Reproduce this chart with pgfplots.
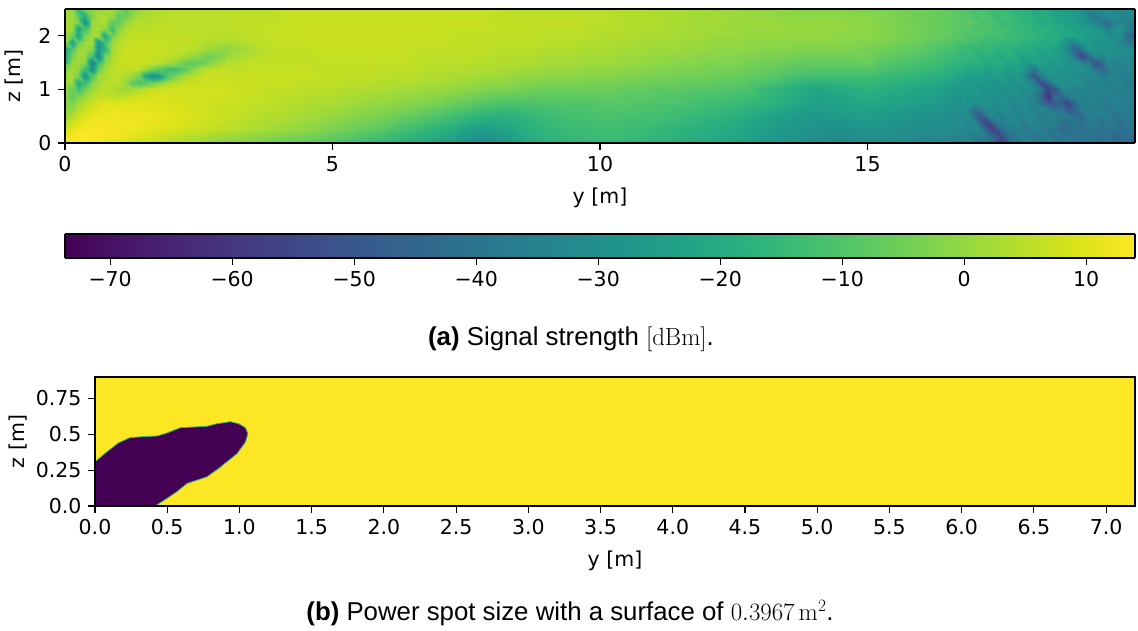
\documentclass[border=0pt]{standalone}
\usepackage{pgfplots}
\pgfplotsset{compat=1.18}
\usepackage[no-math]{fontspec}
\setmainfont{DejaVu Sans}
\newfontfamily\capfont{Liberation Sans}
\definecolor{vy}{HTML}{FDE725}
\definecolor{vd}{HTML}{440154}
\definecolor{vt}{HTML}{2FB47C}
\pgfplotsset{
  base/.style={scale only axis, axis on top, enlargelimits=false,
    axis line style={line width=1.3pt,black},
    tick style={line width=1.1pt,black},
    major tick length=7pt, tick align=outside, xtick pos=bottom, ytick pos=left,
    tick label style={font=\fontsize{20.5}{24}\selectfont},
    label style={font=\fontsize{20.5}{24}\selectfont},
    x tick label style={yshift=-3pt}, y tick label style={xshift=-3pt},
    /pgf/number format/assume math mode=true,
    colormap/viridis},
}
\begin{document}
\begin{tikzpicture}[x=1pt,y=1pt]
\useasboundingbox (0,0) rectangle (1138,631);
\begin{axis}[base, at={(65pt,488pt)}, anchor=south west, width=1070pt, height=134pt,
  xmin=0, xmax=20, ymin=0, ymax=2.5, xtick={0,5,10,15}, ytick={0,1,2},
  xticklabels={0,5,10,15}, yticklabels={0,1,2},
  xlabel={y [m]}, ylabel={z [m]}, view={0}{90},
  point meta min=-73.7, point meta max=14,
  xlabel style={yshift=-9pt}, ylabel style={yshift=8pt}]
\addplot3[surf, shader=interp, mesh/cols=81, point meta=z] table[row sep=crcr,
  x expr={mod(\coordindex,81)*0.25}, y expr={floor(\coordindex/81)*0.25}, z=v] {
v\\
14\\14\\13\\12\\10\\9\\7\\6\\4\\3\\2\\0\\-2\\-3\\-4\\-5\\-6\\-7\\-8\\-9\\
-10\\-12\\-13\\-15\\-16\\-18\\-20\\-22\\-24\\-26\\-30\\-32\\-30\\-28\\-24\\-20\\-18\\-17\\-16\\-15\\
-15\\-15\\-15\\-16\\-17\\-18\\-19\\-20\\-21\\-22\\-23\\-24\\-26\\-28\\-29\\-30\\-31\\-32\\-34\\-33\\
-30\\-31\\-32\\-33\\-34\\-35\\-36\\-38\\-42\\-50\\-56\\-48\\-42\\-40\\-38\\-40\\-41\\-42\\-43\\-44\\-45\\
9\\12\\13\\13\\12\\12\\11\\10\\9\\8\\7\\6\\5\\4\\3\\2\\1\\0\\-1\\-2\\
-4\\-5\\-7\\-8\\-10\\-12\\-14\\-16\\-18\\-20\\-23\\-26\\-25\\-23\\-20\\-18\\-16\\-15\\-14\\-14\\
-13\\-13\\-14\\-14\\-15\\-16\\-17\\-18\\-19\\-20\\-21\\-22\\-24\\-26\\-27\\-28\\-29\\-30\\-30\\-30\\
-29\\-29\\-30\\-31\\-32\\-31\\-31\\-32\\-50\\-58\\-48\\-38\\-36\\-36\\-38\\-44\\-44\\-42\\-40\\-42\\-44\\
0\\8\\11\\12\\13\\12\\12\\11\\10\\9\\8\\7\\7\\6\\5\\4\\4\\3\\2\\1\\
0\\-1\\-2\\-3\\-4\\-6\\-7\\-9\\-11\\-13\\-15\\-17\\-18\\-18\\-17\\-15\\-14\\-13\\-12\\-12\\
-11\\-11\\-12\\-12\\-12\\-13\\-14\\-15\\-16\\-17\\-18\\-20\\-22\\-24\\-25\\-26\\-27\\-26\\-26\\-25\\
-25\\-26\\-27\\-28\\-29\\-30\\-31\\-32\\-44\\-36\\-33\\-33\\-40\\-44\\-50\\-56\\-40\\-38\\-37\\-38\\-39\\
-2\\2\\7\\10\\10\\10\\10\\10\\9\\9\\8\\8\\7\\7\\6\\6\\5\\4\\4\\3\\
3\\2\\1\\0\\0\\-1\\-2\\-3\\-4\\-6\\-7\\-9\\-10\\-11\\-11\\-11\\-10\\-10\\-10\\-10\\
-9\\-9\\-9\\-10\\-10\\-11\\-11\\-12\\-13\\-13\\-14\\-15\\-16\\-18\\-20\\-22\\-24\\-24\\-23\\-22\\
-21\\-22\\-23\\-24\\-25\\-26\\-28\\-30\\-31\\-33\\-33\\-32\\-34\\-42\\-50\\-55\\-38\\-36\\-36\\-36\\-37\\
0\\-12\\0\\6\\2\\-2\\3\\6\\8\\8\\8\\8\\8\\7\\7\\6\\6\\6\\5\\5\\
5\\4\\4\\3\\3\\2\\2\\1\\1\\0\\-1\\-2\\-3\\-3\\-4\\-5\\-6\\-6\\-6\\-6\\
-6\\-6\\-7\\-7\\-8\\-8\\-8\\-9\\-9\\-10\\-10\\-11\\-14\\-16\\-18\\-20\\-22\\-21\\-20\\-19\\
-18\\-19\\-20\\-21\\-22\\-23\\-25\\-28\\-28\\-29\\-30\\-30\\-40\\-45\\-62\\-42\\-34\\-36\\-36\\-37\\-38\\
1\\2\\-22\\2\\5\\1\\-14\\-28\\-14\\-4\\0\\4\\7\\7\\7\\7\\7\\7\\7\\6\\
6\\6\\6\\6\\5\\5\\5\\4\\4\\3\\3\\2\\2\\1\\0\\0\\-1\\-1\\-1\\-2\\
-2\\-2\\-3\\-3\\-4\\-4\\-5\\-5\\-5\\-6\\-6\\-7\\-8\\-9\\-11\\-12\\-13\\-13\\-13\\-13\\
-13\\-14\\-15\\-16\\-17\\-18\\-20\\-23\\-23\\-24\\-28\\-26\\-32\\-50\\-30\\-32\\-35\\-36\\-37\\-38\\-38\\
-12\\2\\-34\\2\\5\\7\\8\\7\\5\\1\\-6\\-5\\4\\5\\6\\6\\6\\6\\6\\6\\
6\\6\\6\\6\\6\\6\\6\\5\\5\\5\\5\\4\\4\\4\\3\\3\\2\\2\\2\\1\\
1\\1\\0\\0\\-1\\-1\\-2\\-2\\-3\\-3\\-3\\-4\\-5\\-5\\-6\\-7\\-7\\-7\\-7\\-7\\
-6\\-9\\-10\\-11\\-12\\-13\\-15\\-17\\-16\\-17\\-18\\-20\\-24\\-24\\-26\\-27\\-28\\-32\\-50\\-34\\-34\\
-30\\0\\-18\\-22\\2\\6\\7\\7\\7\\7\\6\\5\\-1\\1\\3\\5\\6\\6\\6\\7\\
7\\7\\7\\7\\7\\7\\6\\6\\6\\6\\6\\6\\5\\5\\5\\5\\4\\4\\4\\3\\
3\\3\\2\\2\\1\\1\\1\\0\\0\\-1\\-1\\-1\\-2\\-2\\-2\\-3\\-3\\-3\\-3\\-3\\
-4\\-5\\-6\\-7\\-8\\-10\\-12\\-14\\-12\\-13\\-14\\-16\\-18\\-20\\-24\\-40\\-55\\-35\\-30\\-31\\-32\\
0\\-14\\3\\-26\\-4\\4\\5\\6\\6\\6\\6\\6\\5\\5\\6\\6\\7\\7\\7\\7\\
7\\7\\7\\7\\7\\7\\7\\7\\7\\6\\6\\6\\6\\6\\6\\6\\5\\5\\5\\5\\
4\\4\\4\\3\\3\\3\\2\\2\\1\\1\\1\\0\\0\\0\\0\\0\\0\\0\\-1\\-1\\
-1\\-2\\-3\\-4\\-5\\-6\\-7\\-9\\-9\\-10\\-11\\-12\\-14\\-16\\-18\\-20\\-24\\-26\\-28\\-30\\-50\\
2\\-28\\2\\-2\\-8\\2\\3\\4\\5\\5\\5\\5\\5\\6\\6\\6\\6\\7\\7\\7\\
7\\7\\7\\7\\7\\7\\7\\7\\7\\7\\7\\7\\6\\6\\6\\6\\6\\6\\6\\5\\
5\\5\\4\\4\\4\\3\\3\\2\\2\\2\\1\\1\\1\\1\\0\\0\\0\\0\\0\\-1\\
-1\\-2\\-3\\-4\\-5\\-6\\-7\\-9\\-9\\-11\\-13\\-15\\-17\\-19\\-20\\-22\\-26\\-28\\-42\\-32\\-34\\
-2\\-14\\0\\2\\-8\\-2\\2\\3\\4\\5\\5\\5\\5\\5\\5\\5\\6\\6\\6\\6\\
6\\6\\6\\6\\6\\6\\6\\6\\6\\6\\6\\6\\6\\5\\5\\5\\5\\5\\5\\5\\
5\\4\\4\\4\\3\\3\\3\\2\\2\\1\\1\\0\\0\\-1\\-1\\-2\\-2\\-2\\-2\\-2\\
-3\\-3\\-4\\-5\\-5\\-6\\-7\\-9\\-10\\-12\\-14\\-16\\-18\\-20\\-22\\-24\\-26\\-30\\-32\\-30\\-34\\
};
% finer samples, y 0 to 3
\addplot3[surf, shader=interp, mesh/cols=25, point meta=z] table[row sep=crcr,
  x expr={mod(\coordindex,25)*0.125}, y expr={floor(\coordindex/25)*0.125}, z=v] {
v\\
14\\14\\14\\14\\13\\13\\12\\11\\10\\10\\9\\8\\7\\7\\6\\5\\4\\4\\3\\3\\2\\1\\0\\-1\\-2\\
12\\13\\14\\14\\14\\13\\13\\12\\12\\11\\10\\10\\9\\8\\8\\7\\6\\6\\5\\4\\4\\3\\2\\2\\1\\
9\\11\\12\\13\\13\\13\\13\\13\\12\\12\\12\\11\\11\\10\\10\\9\\9\\8\\8\\7\\7\\6\\6\\5\\5\\
4\\8\\10\\12\\12\\13\\13\\12\\12\\12\\12\\12\\11\\11\\11\\10\\10\\9\\9\\8\\8\\8\\7\\7\\6\\
0\\4\\8\\10\\11\\12\\12\\12\\13\\12\\12\\12\\12\\11\\11\\11\\10\\10\\9\\9\\8\\8\\7\\7\\7\\
-2\\0\\4\\7\\9\\10\\11\\11\\11\\11\\11\\11\\11\\10\\10\\10\\9\\9\\9\\8\\8\\8\\7\\7\\7\\
-2\\-3\\2\\5\\7\\9\\10\\10\\10\\10\\10\\10\\10\\10\\10\\9\\9\\9\\8\\8\\8\\8\\7\\7\\7\\
-1\\-8\\-3\\1\\4\\6\\6\\5\\5\\6\\7\\8\\8\\9\\9\\9\\8\\8\\8\\8\\8\\8\\8\\8\\8\\
0\\-6\\-14\\-3\\1\\4\\5\\4\\2\\0\\2\\4\\6\\7\\7\\8\\8\\8\\8\\8\\8\\8\\8\\8\\8\\
1\\1\\-20\\-14\\-2\\2\\4\\5\\5\\1\\-8\\-12\\-8\\-4\\0\\3\\5\\6\\7\\7\\7\\7\\7\\7\\7\\
2\\2\\-4\\-28\\-8\\1\\4\\5\\5\\4\\1\\-4\\-20\\-30\\-26\\-14\\-6\\-1\\3\\5\\6\\7\\7\\7\\7\\
2\\2\\0\\-14\\-30\\-6\\2\\5\\6\\6\\6\\5\\2\\-4\\-8\\-12\\-14\\-12\\-8\\-2\\2\\5\\6\\6\\7\\
-8\\1\\2\\-2\\-35\\-14\\0\\4\\6\\7\\7\\7\\7\\6\\5\\3\\1\\-2\\-6\\-8\\-7\\-5\\-1\\2\\4\\
-18\\-4\\2\\1\\-12\\-34\\-4\\3\\6\\7\\7\\7\\7\\7\\6\\6\\5\\4\\3\\0\\-2\\-5\\-5\\-3\\-2\\
-22\\-10\\1\\2\\-2\\-28\\-16\\2\\5\\7\\7\\7\\7\\7\\7\\6\\6\\6\\5\\5\\4\\2\\1\\0\\-1\\
-2\\-24\\-6\\2\\2\\-28\\-12\\0\\4\\6\\7\\7\\7\\7\\7\\6\\6\\6\\6\\5\\5\\4\\4\\3\\3\\
2\\-6\\-22\\-2\\2\\2\\-22\\-4\\2\\5\\6\\6\\6\\6\\6\\6\\6\\6\\6\\6\\5\\5\\5\\5\\5\\
3\\1\\-22\\-12\\2\\3\\-2\\-14\\-2\\3\\5\\5\\5\\5\\6\\6\\6\\5\\5\\5\\5\\5\\5\\5\\5\\
3\\2\\-4\\-30\\0\\3\\3\\-8\\-8\\0\\3\\4\\4\\5\\5\\5\\5\\5\\5\\5\\5\\5\\5\\5\\5\\
2\\1\\-8\\-18\\-2\\2\\3\\1\\-8\\-6\\0\\3\\3\\4\\4\\5\\5\\5\\5\\5\\5\\5\\5\\5\\5\\
1\\0\\-16\\-4\\0\\1\\2\\2\\-2\\-8\\-3\\1\\2\\3\\4\\4\\5\\5\\5\\5\\5\\5\\5\\5\\5\\
};
% finer samples, y 16.75 to 20
\addplot3[surf, shader=interp, mesh/cols=27, point meta=z] table[row sep=crcr,
  x expr={16.75+mod(\coordindex,27)*0.125}, y expr={floor(\coordindex/27)*0.125}, z=v] {
v\\
-39\\-35\\-36\\-41\\-39\\-45\\-56\\-46\\-38\\-42\\-37\\-37\\-41\\-38\\-38\\-43\\-39\\-40\\-44\\-41\\-41\\-46\\-42\\-43\\-47\\-43\\-48\\
-34\\-34\\-38\\-36\\-40\\-48\\-54\\-42\\-40\\-37\\-37\\-40\\-37\\-37\\-41\\-38\\-38\\-42\\-39\\-39\\-43\\-40\\-41\\-45\\-42\\-42\\-46\\
-31\\-35\\-32\\-34\\-50\\-55\\-44\\-38\\-36\\-35\\-39\\-36\\-36\\-40\\-38\\-44\\-42\\-38\\-42\\-39\\-39\\-43\\-40\\-40\\-44\\-41\\-42\\
-30\\-34\\-32\\-48\\-58\\-42\\-35\\-34\\-33\\-37\\-34\\-34\\-38\\-35\\-36\\-42\\-42\\-38\\-41\\-38\\-38\\-41\\-38\\-38\\-42\\-39\\-40\\
-32\\-30\\-44\\-50\\-36\\-32\\-36\\-33\\-33\\-36\\-33\\-33\\-36\\-36\\-34\\-38\\-37\\-42\\-44\\-37\\-38\\-37\\-37\\-41\\-38\\-38\\-39\\
-29\\-33\\-42\\-36\\-31\\-34\\-31\\-31\\-34\\-32\\-32\\-36\\-34\\-36\\-42\\-40\\-50\\-44\\-36\\-37\\-36\\-36\\-39\\-36\\-36\\-38\\-38\\
-30\\-28\\-30\\-30\\-28\\-32\\-30\\-30\\-33\\-31\\-34\\-36\\-42\\-50\\-46\\-48\\-56\\-42\\-35\\-37\\-36\\-36\\-38\\-35\\-35\\-38\\-37\\
-27\\-29\\-28\\-28\\-31\\-29\\-29\\-32\\-30\\-30\\-33\\-36\\-46\\-62\\-42\\-44\\-38\\-34\\-36\\-34\\-34\\-37\\-35\\-35\\-38\\-36\\-37\\
-28\\-26\\-26\\-29\\-28\\-28\\-31\\-29\\-29\\-32\\-30\\-34\\-40\\-56\\-50\\-34\\-33\\-35\\-33\\-33\\-36\\-34\\-34\\-37\\-35\\-36\\-38\\
-25\\-26\\-27\\-26\\-26\\-29\\-27\\-27\\-30\\-28\\-30\\-38\\-54\\-44\\-32\\-30\\-33\\-31\\-32\\-35\\-33\\-34\\-37\\-35\\-35\\-38\\-36\\
-23\\-25\\-24\\-24\\-27\\-25\\-25\\-28\\-26\\-28\\-40\\-50\\-36\\-31\\-29\\-31\\-29\\-30\\-33\\-32\\-32\\-36\\-34\\-34\\-37\\-35\\-36\\
-20\\-22\\-21\\-21\\-24\\-22\\-22\\-25\\-24\\-24\\-34\\-38\\-28\\-27\\-30\\-28\\-28\\-31\\-30\\-32\\-40\\-46\\-38\\-33\\-36\\-34\\-35\\
-17\\-19\\-18\\-18\\-21\\-20\\-20\\-23\\-21\\-24\\-28\\-24\\-24\\-27\\-26\\-26\\-29\\-28\\-34\\-36\\-52\\-44\\-32\\-35\\-33\\-33\\-36\\
-17\\-16\\-16\\-19\\-18\\-18\\-21\\-19\\-19\\-24\\-22\\-22\\-25\\-24\\-24\\-27\\-30\\-42\\-56\\-44\\-32\\-33\\-31\\-31\\-34\\-32\\-33\\
-14\\-14\\-17\\-15\\-15\\-18\\-16\\-17\\-20\\-19\\-19\\-22\\-21\\-21\\-24\\-26\\-34\\-46\\-38\\-28\\-28\\-30\\-29\\-29\\-32\\-31\\-31\\
-13\\-12\\-12\\-15\\-13\\-14\\-17\\-15\\-15\\-18\\-17\\-18\\-21\\-20\\-20\\-24\\-32\\-34\\-27\\-26\\-29\\-28\\-28\\-31\\-34\\-40\\-34\\
-9\\-11\\-10\\-10\\-13\\-12\\-12\\-15\\-14\\-14\\-17\\-16\\-17\\-20\\-19\\-20\\-23\\-22\\-23\\-26\\-26\\-27\\-31\\-30\\-33\\-46\\-50\\
-9\\-9\\-11\\-10\\-10\\-13\\-12\\-13\\-16\\-15\\-15\\-18\\-17\\-18\\-21\\-20\\-21\\-24\\-24\\-25\\-28\\-30\\-36\\-30\\-30\\-36\\-42\\
-10\\-8\\-9\\-12\\-10\\-12\\-15\\-14\\-14\\-17\\-17\\-18\\-21\\-20\\-21\\-24\\-24\\-25\\-28\\-30\\-34\\-40\\-44\\-34\\-34\\-37\\-36\\
-9\\-9\\-12\\-10\\-11\\-14\\-13\\-13\\-16\\-16\\-17\\-20\\-19\\-20\\-23\\-23\\-24\\-27\\-28\\-34\\-38\\-34\\-31\\-32\\-35\\-33\\-34\\
-9\\-10\\-12\\-11\\-12\\-15\\-14\\-15\\-18\\-17\\-18\\-21\\-20\\-21\\-24\\-24\\-25\\-28\\-29\\-36\\-32\\-31\\-33\\-32\\-35\\-30\\-34\\
};
\end{axis}
\begin{axis}[base, at={(65pt,373pt)}, anchor=south west, width=1070pt, height=24pt,
  xmin=-73.7, xmax=14, ymin=0, ymax=1, ytick=\empty, view={0}{90},
  xtick={-70,-60,-50,-40,-30,-20,-10,0,10},
  xticklabels={−70,−60,−50,−40,−30,−20,−10,0,10},
  point meta min=-73.7, point meta max=14]
\addplot3[surf, shader=interp, mesh/cols=2, point meta=x] coordinates {
  (-73.7,0,0) (14,0,0)
  (-73.7,1,0) (14,1,0)
};
\end{axis}
\begin{axis}[base, at={(95pt,125pt)}, anchor=south west, width=1040pt, height=129pt,
  xmin=0, xmax=7.2, ymin=0, ymax=0.9,
  xtick={0,0.5,1,1.5,2,2.5,3,3.5,4,4.5,5,5.5,6,6.5,7},
  xticklabels={0.0,0.5,1.0,1.5,2.0,2.5,3.0,3.5,4.0,4.5,5.0,5.5,6.0,6.5,7.0},
  ytick={0,0.25,0.5,0.75}, yticklabels={0.0,0.25,0.5,0.75},
  xlabel={y [m]}, ylabel={z [m]},
  xlabel style={yshift=-9pt}, ylabel style={yshift=2pt}]
\addplot[draw=none, fill=vy] coordinates {(0,0) (7.2,0) (7.2,0.9) (0,0.9)} -- cycle;
\addplot[draw=vt, line width=0.8pt, fill=vd] coordinates {
 (0,0.308) (0.081,0.377) (0.162,0.44) (0.243,0.477) (0.336,0.484) (0.428,0.488)
 (0.498,0.509) (0.59,0.546) (0.775,0.556) (0.845,0.574) (0.938,0.588) (0.995,0.574)
 (1.042,0.546) (1.058,0.505) (1.042,0.447) (0.984,0.366) (0.856,0.262) (0.775,0.204)
 (0.637,0.157) (0.567,0.1) (0.498,0.053) (0.417,0) (0,0)} -- cycle;
\end{axis}
\node[font=\capfont\fontsize{25.8}{30}\selectfont, anchor=center] at (571,292) {\textbf{(a)} Signal strength $[\mathrm{dBm}]$.};
\node[font=\capfont\fontsize{25.8}{30}\selectfont, anchor=center] at (570,18) {\textbf{(b)} Power spot size with a surface of $0.3967\,\mathrm{m}^2$.};
\end{tikzpicture}
\end{document}
